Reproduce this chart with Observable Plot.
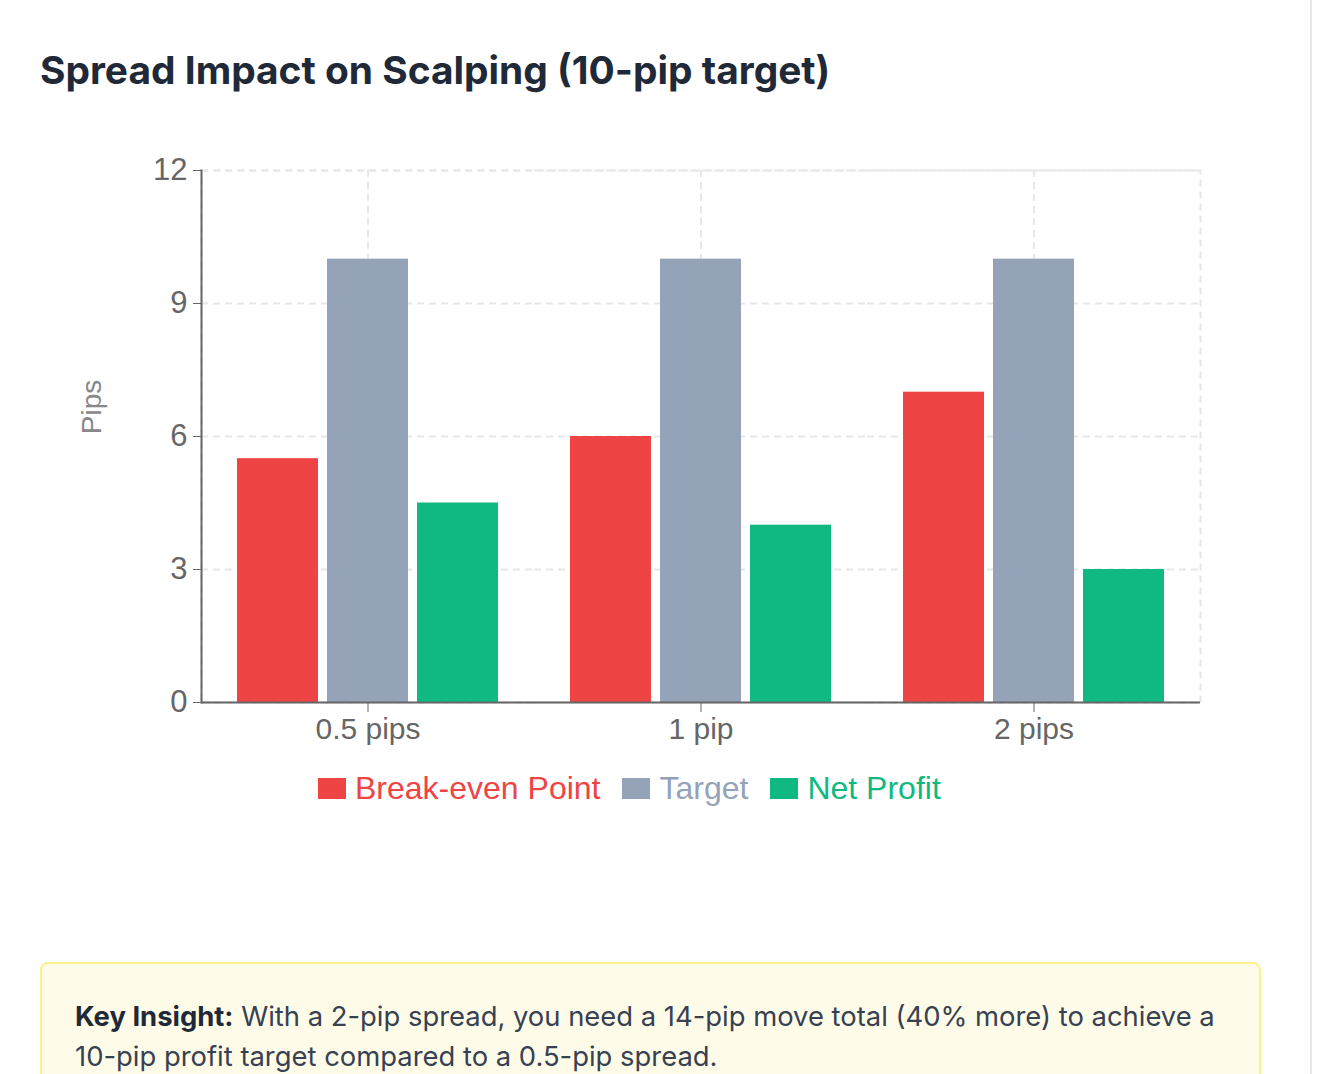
<!DOCTYPE html>
<html>
<head>
<meta charset="utf-8">
<script src="https://cdn.jsdelivr.net/npm/d3@7"></script>
<script src="https://cdn.jsdelivr.net/npm/@observablehq/plot@0.6"></script>
<style>
  html, body { margin: 0; padding: 0; background: #ffffff; }
  body { width: 1332px; height: 1074px; position: relative; overflow: hidden; font-family: Inter, "Noto Sans", sans-serif; }
  .card { position: absolute; left: -20px; top: -12px; width: 1332px; height: 1200px; border: 2px solid #e5e7eb; border-radius: 12px; background: #fff; box-sizing: border-box; }
  h2 { position: absolute; left: 40px; top: 46px; margin: 0; font-size: 38.9px; line-height: 48px; font-weight: 700; color: #1f2937; }
  #chart { position: absolute; left: 0; top: 130px; }
  #ylabel { position: absolute; left: 92px; top: 407px; transform: translate(-50%, -50%) rotate(-90deg); font-family: "Liberation Sans", Arial, sans-serif; font-size: 28px; color: #888; white-space: nowrap; }
  #legend { position: absolute; left: 318px; top: 768px; height: 40px; display: flex; align-items: center; font-family: "Liberation Sans", Arial, sans-serif; font-size: 32px; white-space: nowrap; }
  #legend .item { display: flex; align-items: center; margin-right: 22px; }
  #legend .sw { width: 28px; height: 21px; margin-right: 9px; }
  .insight { position: absolute; left: 40px; top: 962px; width: 1221px; height: 160px; box-sizing: border-box; background: #fefce8; border: 2px solid #fef08a; border-radius: 8px; padding: 32px 33px; font-size: 27.4px; line-height: 40px; color: #374151; }
  .insight b { color: #1f2937; }
  .nb { white-space: nowrap; }
</style>
</head>
<body>
<div class="card"></div>
<h2>Spread Impact on Scalping (10-pip target)</h2>
<div id="chart"></div>
<div id="ylabel"></div>
<div id="legend"></div>
<div class="insight"><b>Key Insight:</b> With a 2-pip spread, you need a <span class="nb">14-pip</span> move total (40% more) to achieve a <span class="nb">10-pip</span> profit target compared to a <span class="nb">0.5-pip</span> spread.</div>
<script>
const categories = ["0.5 pips", "1 pip", "2 pips"];
const series = ["Break-even Point", "Target", "Net Profit"];
const breakEven = [5.5, 6, 7];
const target = [10, 10, 10];
const netProfit = [4.5, 4, 3];
const colors = ["#ef4444", "#94a3b8", "#10b981"];
const yTicks = [0, 3, 6, 9, 12];
const yLabel = "Pips";

const seriesValues = [breakEven, target, netProfit];
const data = categories.flatMap((c, i) =>
  series.map((s, j) => ({cat: c, series: s, value: seriesValues[j][i]}))
);

const gridStyle = {stroke: "#e5e7eb", strokeOpacity: 1, strokeWidth: 2, strokeDasharray: "7,5"};

const chart = Plot.plot({
  width: 1250,
  height: 622,
  marginLeft: 200,
  marginRight: 49,
  marginTop: 40,
  marginBottom: 50,
  style: {fontFamily: "'Liberation Sans', Arial, sans-serif", fontSize: "28px", background: "transparent", overflow: "visible"},
  fx: {domain: categories, padding: 0, label: null},
  x: {domain: series, paddingInner: 0.1, paddingOuter: 0.4, axis: null},
  y: {domain: [0, 12], ticks: yTicks, label: null},
  color: {domain: series, range: colors},
  marks: [
    Plot.frame({facet: "super", ...gridStyle}),
    Plot.gridY(yTicks, gridStyle),
    Plot.gridFx(gridStyle),
    Plot.barY(data, {fx: "cat", x: "series", y: "value", fill: "series"}),
    Plot.ruleY([0], {stroke: "#666", strokeWidth: 2}),
    Plot.frame({facet: "super", anchor: "left", stroke: "#666", strokeWidth: 2}),
    Plot.axisY({ticks: yTicks, tickSize: 8, tickPadding: 6, fontSize: 31, color: "#666", label: null}),
    Plot.axisFx({anchor: "bottom", tickSize: 10, tickPadding: 5, fontSize: 30, color: "#666", label: null})
  ]
});
document.getElementById("chart").appendChild(chart);
document.getElementById("ylabel").textContent = yLabel;

const legend = document.getElementById("legend");
series.forEach((s, i) => {
  const item = document.createElement("div");
  item.className = "item";
  const sw = document.createElement("span");
  sw.className = "sw";
  sw.style.background = colors[i];
  const t = document.createElement("span");
  t.textContent = s;
  t.style.color = colors[i];
  item.appendChild(sw);
  item.appendChild(t);
  legend.appendChild(item);
});
</script>
</body>
</html>
